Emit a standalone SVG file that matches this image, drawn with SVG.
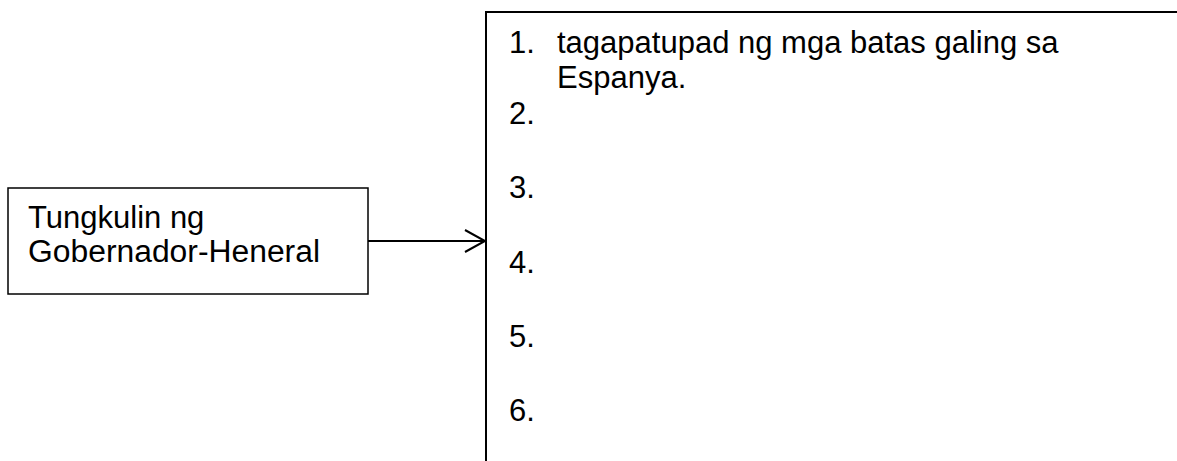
<svg xmlns="http://www.w3.org/2000/svg" width="1177" height="461" viewBox="0 0 1177 461">
<style>
.t{font-family:"Liberation Sans",Arial,sans-serif;font-size:31px;fill:#000}
.b{fill:#fff;stroke:#000;stroke-width:1.5}
</style>
<rect width="1177" height="461" fill="#fff"/>
<g id="source">
<rect class="b" x="8" y="188" width="360" height="106"/>
<text class="t" x="28" y="228">Tungkulin ng</text>
<text class="t" x="28" y="262" textLength="292" lengthAdjust="spacingAndGlyphs">Gobernador-Heneral</text>
</g>
<g id="connectors">
<line x1="368" y1="241" x2="484" y2="241" stroke="#000" stroke-width="2"/>
<polyline points="465,230 485,241 465,252" fill="none" stroke="#000" stroke-width="2"/>
</g>
<g id="list">
<path d="M486,470 V12 H1185" fill="none" stroke="#000" stroke-width="2"/>
<text class="t" x="509" y="53">1.</text>
<text class="t" x="557" y="53">tagapatupad ng mga batas galing sa</text>
<text class="t" x="557" y="88">Espanya.</text>
<text class="t" x="509" y="124">2.</text>
<text class="t" x="509" y="198">3.</text>
<text class="t" x="509" y="273">4.</text>
<text class="t" x="509" y="347">5.</text>
<text class="t" x="509" y="421">6.</text>
</g>
</svg>
